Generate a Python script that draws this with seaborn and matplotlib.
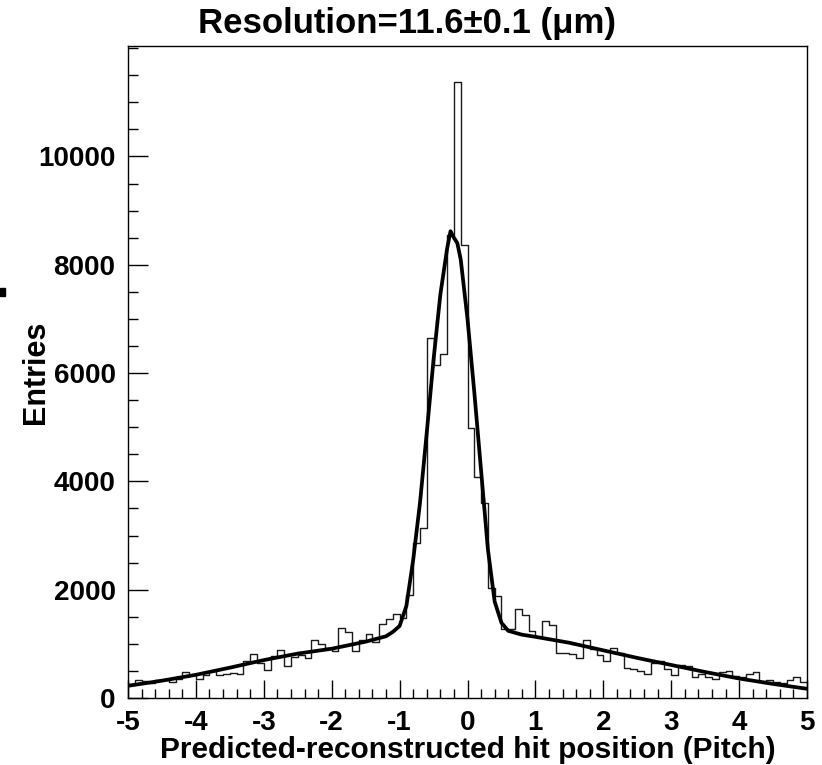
import numpy as np
import pandas as pd
import matplotlib
matplotlib.use("Agg")
import matplotlib.pyplot as plt
from matplotlib.ticker import MultipleLocator, FixedLocator
from matplotlib.patches import Rectangle
import seaborn as sns

# ---------------- data ----------------
bin_edges = [round(-5.0 + 0.1 * i, 1) for i in range(101)]
counts = [
    260, 336, 318, 275, 336, 336, 300, 350, 471, 420,
    349, 430, 502, 420, 441, 459, 450, 675, 810, 650,
    521, 767, 878, 595, 755, 798, 736, 1075, 1001, 921,
    859, 1285, 1228, 859, 1075, 1190, 1025, 1375, 1460, 1560,
    1470, 1905, 2865, 3143, 6652, 6142, 6356, 8550, 11380, 8370,
    4990, 4074, 3608, 2025, 1890, 1280, 1280, 1640, 1540, 1240,
    1120, 1413, 1345, 840, 829, 810, 736, 1080, 910, 798,
    680, 915, 829, 552, 540, 502, 447, 644, 675, 533,
    428, 613, 595, 379, 441, 397, 355, 471, 490, 410,
    385, 441, 471, 305, 336, 287, 275, 336, 397, 287,
]
fit_x = [-5.0, -4.5, -4.0, -3.5, -3.0, -2.5, -2.0, -1.5, -1.2, -1.1, -1.0,
         -0.9, -0.8, -0.7, -0.6, -0.5, -0.4, -0.3, -0.25, -0.2, -0.15, -0.1,
         0.0, 0.1, 0.2, 0.3, 0.4, 0.5, 0.6, 0.8, 1.0, 1.5, 2.0, 2.5, 3.0,
         3.5, 4.0, 4.5, 5.0]
fit_y = [225, 320, 428, 560, 700, 820, 910, 1040, 1140, 1220, 1330,
         1700, 2550, 3600, 4900, 6250, 7450, 8300, 8620, 8500, 8400, 8100,
         7000, 5650, 4200, 2750, 1780, 1390, 1240, 1170, 1130, 1020, 880, 740, 610,
         480, 360, 260, 170]
y_ticks = [0, 2000, 4000, 6000, 8000, 10000]
x_ticks = [-5, -4, -3, -2, -1, 0, 1, 2, 3, 4, 5]
title = "Resolution=11.6\u00b10.1 (\u03bcm)"
x_title = "Predicted-reconstructed hit position (Pitch)"
y_title = "Entries"

centers = [(bin_edges[i] + bin_edges[i + 1]) / 2 for i in range(len(counts))]
hist_df = pd.DataFrame({"x": centers, "w": counts})
fit_df = pd.DataFrame({"x": fit_x, "y": fit_y})

# ---------------- style ----------------
sns.set_style("ticks")
plt.rcParams["font.family"] = ["Liberation Sans", "DejaVu Sans"]
plt.rcParams["font.weight"] = "bold"
plt.rcParams["axes.labelweight"] = "bold"
plt.rcParams["axes.unicode_minus"] = False
plt.rcParams["text.color"] = "black"
plt.rcParams["axes.labelcolor"] = "black"
plt.rcParams["xtick.color"] = "black"
plt.rcParams["ytick.color"] = "black"

W, H = 822, 765
fig = plt.figure(figsize=(W / 100, H / 100), dpi=100)
fig.patch.set_facecolor("white")
ax = fig.add_axes([128 / W, 1 - 698 / H, (807 - 128) / W, (698 - 46) / H])
ax.set_facecolor("white")

sns.histplot(data=hist_df, x="x", weights="w", bins=bin_edges, element="step",
             fill=False, color="#1a1a1a", linewidth=1.0, ax=ax)
sns.lineplot(data=fit_df, x="x", y="y", color="black", linewidth=2.7,
             sort=False, ax=ax, zorder=5)

ax.set_xlim(-5, 5)
ax.set_ylim(0, 12040)
ax.xaxis.set_major_locator(FixedLocator(x_ticks))
ax.xaxis.set_minor_locator(MultipleLocator(0.2))
ax.yaxis.set_major_locator(FixedLocator(y_ticks))
ax.yaxis.set_minor_locator(MultipleLocator(500))

ax.tick_params(axis="x", which="major", direction="in", length=13, width=1,
               labelsize=20, pad=9, bottom=True, top=False, colors="black")
ax.tick_params(axis="x", which="minor", direction="in", length=6.5, width=1,
               bottom=True, top=False, colors="black")
ax.tick_params(axis="y", which="major", direction="in", length=14.5, width=1,
               labelsize=20, pad=9, left=True, right=False, colors="black")
ax.tick_params(axis="y", which="minor", direction="in", length=7.2, width=1,
               left=True, right=False, colors="black")
for lab in ax.get_xticklabels() + ax.get_yticklabels():
    lab.set_fontweight("bold")

for s in ax.spines.values():
    s.set_visible(True)
    s.set_color("black")
    s.set_linewidth(1.0)

ax.set_xlabel(x_title, fontsize=21.5, fontweight="bold")
ax.xaxis.set_label_coords(0.5, -0.058)
ax.set_ylabel(y_title, fontsize=22, fontweight="bold")
ax.yaxis.set_label_coords(-0.113, 0.5)
ax.grid(False)

fig.text(407 / W, 1 - 24 / H, title, ha="center", va="center",
         fontsize=25, fontweight="bold")

fig.patches.append(Rectangle((0, 1 - 296 / H), 5 / W, 8 / H,
                             transform=fig.transFigure, color="black"))

fig.savefig("out.png", dpi=100, facecolor="white")
